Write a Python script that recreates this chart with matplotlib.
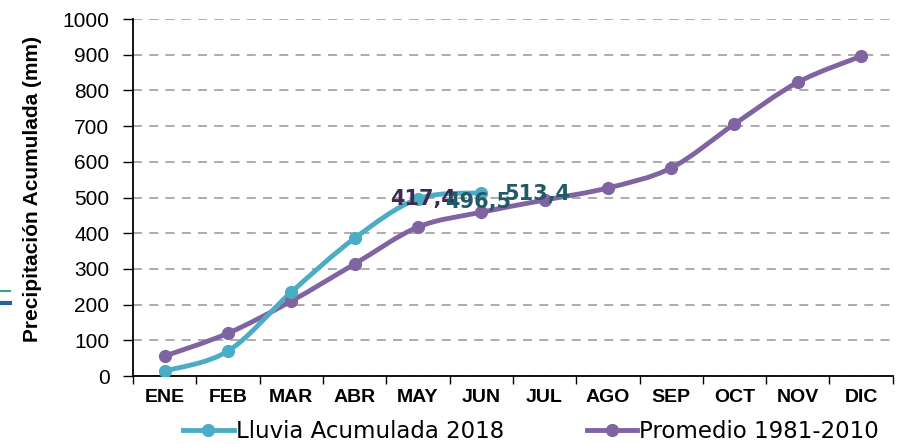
import numpy as np
import matplotlib
matplotlib.use('Agg')
from matplotlib import pyplot as plt
from matplotlib.path import Path
from matplotlib.patches import PathPatch
from matplotlib.lines import Line2D

months = ['ENE', 'FEB', 'MAR', 'ABR', 'MAY', 'JUN', 'JUL', 'AGO', 'SEP', 'OCT', 'NOV', 'DIC']
lluvia_2018 = [14, 70, 235, 386, 496.5, 513.4]
promedio = [56, 120, 210, 314, 417.4, 459, 493, 527, 583, 706, 823, 896]

cyan = '#4bacc6'
purple = '#8064a2'
sans = ['Liberation Sans', 'DejaVu Sans']


def smooth_path(x, y):
    # Catmull-Rom style bezier through the points, like Excel's smoothed line
    x = np.asarray(x, float)
    y = np.asarray(y, float)
    verts = [(x[0], y[0])]
    codes = [Path.MOVETO]
    n = len(x)
    for i in range(n - 1):
        p0 = (x[max(i - 1, 0)], y[max(i - 1, 0)])
        p1 = (x[i], y[i])
        p2 = (x[i + 1], y[i + 1])
        p3 = (x[min(i + 2, n - 1)], y[min(i + 2, n - 1)])
        c1 = (p1[0] + (p2[0] - p0[0]) / 6, p1[1] + (p2[1] - p0[1]) / 6)
        c2 = (p2[0] - (p3[0] - p1[0]) / 6, p2[1] - (p3[1] - p1[1]) / 6)
        verts += [c1, c2, p2]
        codes += [Path.CURVE4] * 3
    return Path(verts, codes)


fig = plt.figure(figsize=(9.11, 4.44), dpi=100)
ax = fig.add_axes([0.146, 0.153, 0.834, 0.804])

x_all = np.arange(len(months))
x_ll = np.arange(len(lluvia_2018))

for xs, ys, c in [(x_all, promedio, purple), (x_ll, lluvia_2018, cyan)]:
    ax.add_patch(PathPatch(smooth_path(xs, ys), fill=False, edgecolor=c, lw=3.5, zorder=3))
    ax.plot(xs, ys, 'o', color=c, ms=8.5, zorder=4)

# data labels (they overlap a little in the original too)
lab_font = dict(fontsize=15, fontweight='bold', ha='center', va='center',
                family=['DejaVu Sans'], zorder=5)
ax.text(4 + 0.08, 417.4 + 80, '417,4', color='#3f2a56', **lab_font)
ax.text(4 + 0.95, 496.5 - 8, '496,5', color='#215968', **lab_font)
ax.text(5 + 0.88, 513.4 - 4, '513,4', color='#215968', **lab_font)

ax.set_xlim(-0.5, 11.5)
ax.set_ylim(0, 1000)
ax.set_yticks(np.arange(0, 1001, 100))
ax.set_yticklabels([str(v) for v in range(0, 1001, 100)], family=sans, fontsize=15)
ax.set_xticks(x_all)
ax.set_xticklabels(months, family=sans, fontweight='bold', fontsize=14)
ax.set_xticks(np.arange(-0.5, 12, 1), minor=True)
ax.tick_params(axis='x', which='major', length=0, pad=9)
ax.tick_params(axis='x', which='minor', length=6, width=1, color='black')
ax.tick_params(axis='y', length=7, width=1, color='black', pad=10)

ax.yaxis.grid(True, linestyle=(0, (5, 4)), color='#a6a6a6', lw=1.3)
ax.set_axisbelow(True)
for s in ['top', 'right']:
    ax.spines[s].set_visible(False)
ax.spines['left'].set_linewidth(1.3)
ax.spines['bottom'].set_linewidth(1.3)

ax.set_ylabel('Precipitación Acumulada (mm)', family=sans, fontweight='bold', fontsize=15)
ax.yaxis.set_label_coords(-0.12, 0.525)

handles = [Line2D([], [], color=cyan, lw=3.5, marker='o', ms=8.5),
           Line2D([], [], color=purple, lw=3.5, marker='o', ms=8.5)]
fig.legend(handles, ['Lluvia Acumulada 2018', 'Promedio 1981-2010'], loc='center',
           bbox_to_anchor=(0.583, 0.028), ncols=2, frameon=False, handlelength=2.2,
           handletextpad=0.1, columnspacing=3.6, prop={'family': ['DejaVu Sans'], 'size': 16.5})

# stray marks on the left edge of the original picture
fig.add_artist(Line2D([0.0, 0.011], [0.345, 0.345], color='#3aa57f', lw=1.5))
fig.add_artist(Line2D([0.0, 0.011], [0.318, 0.318], color='#2e5f9e', lw=3))

plt.savefig('out.png', dpi=100)
